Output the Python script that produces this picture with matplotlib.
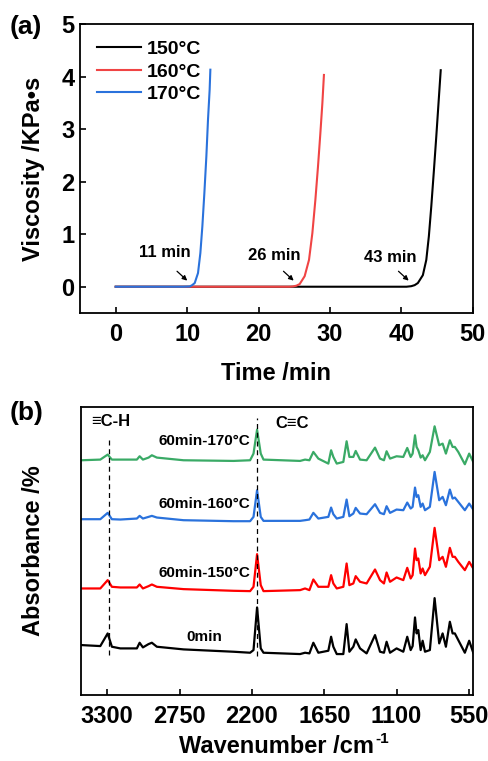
import numpy as np
import matplotlib.pyplot as plt

plt.rcParams['font.family'] = ['Liberation Sans', 'DejaVu Sans']
plt.rcParams['font.weight'] = 'bold'
plt.rcParams['axes.labelweight'] = 'bold'

# ---- (a) viscosity vs time ----
t150 = [0, 10, 20, 30, 38, 40.7, 41.37, 41.85, 42.3, 43.0, 43.48, 43.84, 44.18,
        44.55, 44.88, 45.19, 45.5]
v150 = [0, 0, 0, 0, 0, 0.0, 0.01, 0.03, 0.07, 0.22, 0.51, 0.96, 1.53,
        2.22, 2.86, 3.49, 4.12]
t160 = [0, 10, 20, 24.3, 24.8, 25.3, 25.75, 26.45, 27.06, 27.53, 27.95, 28.32,
        28.65, 28.93, 29.15]
v160 = [0, 0, 0, 0.0, 0.005, 0.02, 0.05, 0.20, 0.51, 1.02, 1.65, 2.29,
        2.92, 3.49, 4.03]
t170 = [0, 5, 9.42, 10.36, 10.7, 11.06, 11.52, 11.85, 12.13, 12.41, 12.69,
        12.92, 13.15, 13.25]
v170 = [0, 0, 0.0, 0.005, 0.03, 0.07, 0.26, 0.64, 1.15, 1.78, 2.48,
        3.18, 3.75, 4.13]
onset_text = ['11 min', '26 min', '43 min']

# ---- (b) FTIR spectra ----
wn = [3498, 3353, 3297, 3265, 3201, 3075, 3054, 3029, 2986, 2961, 2923, 2720,
      2340, 2214, 2188, 2161, 2133, 2112, 1834, 1796, 1763, 1733, 1695, 1619,
      1598, 1581, 1555, 1505, 1480, 1459, 1429, 1411, 1378, 1328, 1264, 1226,
      1196, 1176, 1150, 1100, 1049, 1019, 993, 978, 960, 948, 935, 917, 902,
      884, 847, 811, 776, 750, 725, 695, 674, 657, 631, 581, 548, 517]
a_0min = [1.50, 1.47, 1.85, 1.45, 1.40, 1.40, 1.57, 1.43, 1.53, 1.57, 1.45, 1.37,
          1.30, 1.27, 1.35, 2.63, 1.40, 1.27, 1.23, 1.27, 1.25, 1.57, 1.27, 1.33,
          1.75, 1.45, 1.23, 1.23, 2.13, 1.30, 1.45, 1.67, 1.40, 1.25, 1.80, 1.30,
          1.27, 1.60, 1.27, 1.40, 1.30, 1.75, 1.35, 1.47, 2.33, 1.85, 1.95, 1.35,
          1.63, 1.30, 1.35, 2.91, 1.55, 1.85, 1.45, 2.20, 1.85, 1.85, 1.65, 1.27,
          1.63, 1.27]
a_150 = [3.20, 3.20, 3.45, 3.25, 3.23, 3.23, 3.32, 3.20, 3.27, 3.32, 3.25, 3.18,
         3.13, 3.12, 3.25, 4.23, 3.30, 3.12, 3.15, 3.20, 3.15, 3.47, 3.25, 3.25,
         3.60, 3.35, 3.20, 3.25, 3.95, 3.30, 3.35, 3.57, 3.40, 3.35, 3.77, 3.45,
         3.35, 3.68, 3.40, 3.53, 3.45, 3.82, 3.50, 3.60, 4.40, 4.05, 4.10, 3.65,
         3.80, 3.60, 3.85, 5.02, 4.05, 4.15, 3.85, 4.42, 4.15, 4.15, 4.00, 3.75,
         4.00, 3.80]
a_160 = [5.28, 5.28, 5.47, 5.28, 5.27, 5.30, 5.38, 5.30, 5.35, 5.38, 5.33, 5.25,
         5.22, 5.22, 5.35, 6.15, 5.35, 5.23, 5.23, 5.25, 5.27, 5.47, 5.30, 5.35,
         5.63, 5.43, 5.30, 5.35, 5.87, 5.37, 5.45, 5.62, 5.45, 5.43, 5.73, 5.47,
         5.43, 5.67, 5.47, 5.57, 5.55, 5.78, 5.60, 5.65, 6.23, 5.95, 6.00, 5.65,
         5.75, 5.55, 5.65, 6.70, 5.85, 5.95, 5.70, 6.17, 5.90, 5.93, 5.80, 5.55,
         5.75, 5.57]
a_170 = [7.05, 7.07, 7.22, 7.07, 7.07, 7.07, 7.17, 7.07, 7.13, 7.20, 7.13, 7.05,
         7.03, 7.05, 7.25, 7.97, 7.25, 7.07, 7.03, 7.07, 7.05, 7.30, 7.10, 6.95,
         7.35, 7.15, 6.95, 7.00, 7.62, 7.15, 7.15, 7.33, 7.07, 7.05, 7.43, 7.10,
         7.05, 7.32, 7.10, 7.17, 7.15, 7.42, 7.15, 7.25, 7.80, 7.45, 7.35, 7.13,
         7.20, 7.05, 7.30, 8.07, 7.50, 7.55, 7.25, 7.65, 7.45, 7.45, 7.30, 6.93,
         7.25, 7.00]
spec_labels = ['0min', '60min-150°C', '60min-160°C', '60min-170°C']

fig = plt.figure(figsize=(4.89, 7.61), dpi=100)

ax1 = fig.add_axes([0.1636, 0.5887, 0.8034, 0.3798])
ax1.plot(t150, v150, color='black', lw=1.5, label='150°C')
ax1.plot(t160, v160, color='#f04444', lw=1.5, label='160°C')
ax1.plot(t170, v170, color='#2a72dc', lw=1.5, label='170°C')
ax1.set_xlim(-5, 50)
ax1.set_ylim(-0.5, 5)
ax1.set_xticks([0, 10, 20, 30, 40, 50])
ax1.set_yticks([0, 1, 2, 3, 4, 5])
ax1.tick_params(direction='in', length=4, width=1.2, labelsize=17)
ax1.tick_params(axis='x', pad=7)
ax1.tick_params(axis='y', pad=4)
ax1.set_xlabel('Time /min', fontsize=17, labelpad=12)
ax1.set_ylabel('Viscosity /KPa•s', fontsize=17, labelpad=12)
ax1.legend(loc='upper left', bbox_to_anchor=(0.0, 1.0), frameon=False,
           fontsize=14, handlelength=2.3, handletextpad=0.3, labelspacing=0.25,
           borderaxespad=0.45)

onset_t = [10.3, 25.2, 41.3]
text_xy = [(6.9, 0.5), (22.2, 0.46), (38.4, 0.42)]
for s, t0, (tx, ty) in zip(onset_text, onset_t, text_xy):
    ax1.text(tx, ty, s, fontsize=12, ha='center', va='bottom')
    ax1.annotate('', xy=(t0, 0.08), xytext=(t0 - 2.0, 0.33),
                 arrowprops=dict(arrowstyle='-|>', color='black', lw=0.9,
                                 mutation_scale=7))

ax2 = fig.add_axes([0.1656, 0.0867, 0.8014, 0.3785])
spectra = [a_0min, a_150, a_160, a_170]
colors = ['black', '#ff0000', '#2a72dc', '#3aaa66']
for a, c in zip(spectra, colors):
    ax2.plot(wn, a, color=c, lw=1.6)
ax2.set_xlim(3500, 520)
ax2.set_ylim(0, 8.65)
ax2.set_xticks([3300, 2750, 2200, 1650, 1100, 550])
ax2.set_yticks([])
ax2.tick_params(direction='in', length=4, width=1.2, labelsize=17, pad=7)
ax2.set_xlabel('Wavenumber /cm', fontsize=17, labelpad=5)
ax2.set_ylabel('Absorbance /%', fontsize=17, labelpad=26)

ax2.plot([3290, 3290], [1.20, 7.70], color='black', lw=0.9, ls=(0, (4, 3)))
ax2.plot([2161, 2161], [1.17, 8.32], color='black', lw=0.9, ls=(0, (4, 3)))
ax2.text(3420, 8.2, '≡C-H', fontsize=12, ha='left', va='center')
ax2.text(2020, 8.15, 'C≡C', fontsize=12, ha='left', va='center')
label_y = [1.75, 3.65, 5.75, 7.62]
for s, y in zip(spec_labels, label_y):
    ax2.text(2560, y, s, fontsize=11, ha='center', va='center')

for ax in (ax1, ax2):
    for sp in ax.spines.values():
        sp.set_linewidth(1.3)

fig.text(0.02, 0.964, '(a)', fontsize=19, va='center')
fig.text(0.02, 0.457, '(b)', fontsize=19, va='center')

# superscript "-1" after the x label of panel b
fig.canvas.draw()
bb = ax2.xaxis.label.get_window_extent().transformed(fig.transFigure.inverted())
fig.text(bb.x1 + 0.002, bb.y0 + 0.019, '-1', fontsize=11, ha='left', va='baseline')

fig.savefig('out.png', dpi=100)
